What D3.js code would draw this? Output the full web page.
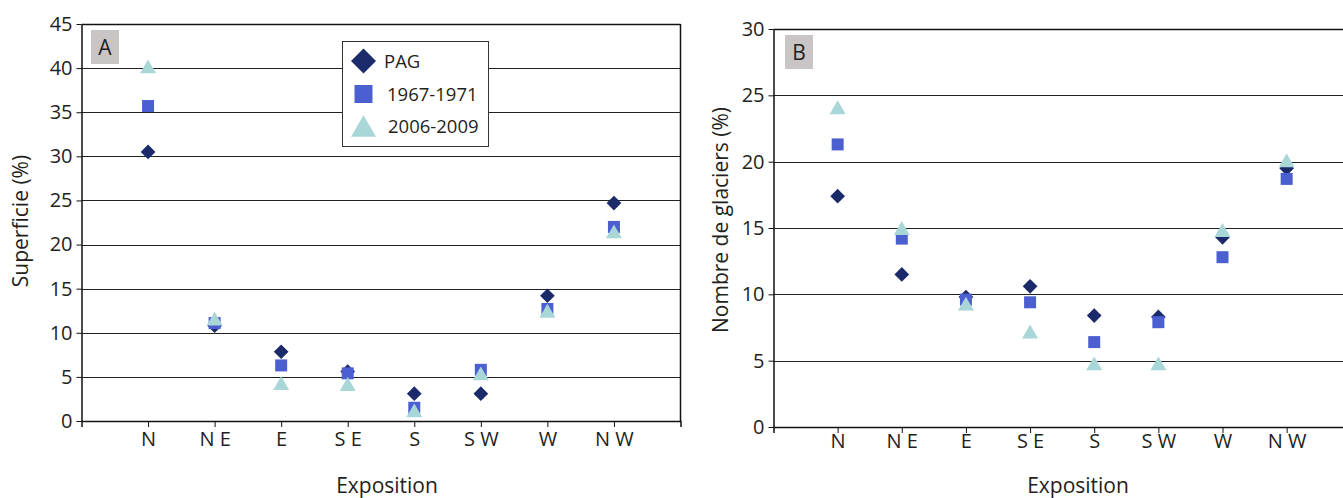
<!DOCTYPE html>
<html><head><meta charset="utf-8">
<script src="https://cdn.jsdelivr.net/npm/d3@7"></script>
<style>
body{margin:0;background:#fff}
text{font-family:"Open Sans",sans-serif;fill:#231f20}
</style>
</head><body><svg id="c" width="1343" height="498"></svg>
<script>
const categories = ["N","N E","E","S E","S","S W","W","N W"];
const seriesNames = ["PAG","1967-1971","2006-2009"];
// Panel A : Superficie (%)
const areaPAG  = [30.5,10.8,7.85,5.6,3.1,3.1,14.2,24.7];
const area1967 = [35.7,11.1,6.3,5.4,1.5,5.8,12.7,22.0];
const area2006 = [40.2,11.6,4.3,4.2,1.2,5.4,12.5,21.5];
// Panel B : Nombre de glaciers (%)
const countPAG  = [17.4,11.5,9.8,10.6,8.4,8.3,14.3,19.5];
const count1967 = [21.3,14.2,9.6,9.4,6.4,7.9,12.8,18.7];
const count2006 = [24.1,15.0,9.3,7.2,4.8,4.8,14.85,20.1];
const yTicksA = [0,5,10,15,20,25,30,35,40,45];
const yTicksB = [0,5,10,15,20,25,30];

const svg = d3.select("#c");
const colors = ["#1b2a6b","#4b5fd1","#a9d6d6"];
const shapes = ["diamond","square","triangle"];

function symPath(shape, size){
  if(shape==="triangle") return d3.symbol(d3.symbolTriangle, size)();
  return d3.symbol(d3.symbolSquare, size)();
}
function symTransform(shape, size, x, y){
  if(shape==="diamond") return `translate(${x},${y}) rotate(45)`;
  if(shape==="triangle"){
    const side = Math.sqrt(4*size/Math.sqrt(3));
    const h = side*Math.sqrt(3)/2;
    return `translate(${x},${y + h/6})`;
  }
  return `translate(${x},${y})`;
}
const markerSize = {diamond:108, square:144, triangle:111};

function panel(opt){
  const g = svg.append("g");
  const x = d3.scalePoint().domain(categories).range([opt.x0,opt.x1]).padding(1);
  const y = d3.scaleLinear().domain([0,opt.ymax]).range([opt.y0,opt.y1]);

  g.append("g").selectAll("line").data(opt.yTicks.filter(d=>d>0)).join("line")
    .attr("x1",opt.x0).attr("x2",Math.min(opt.x1,1343))
    .attr("y1",d=>Math.round(y(d))+0.5).attr("y2",d=>Math.round(y(d))+0.5)
    .attr("stroke",d=>d===opt.ymax?"#111":"#222").attr("stroke-width",d=>d===opt.ymax?1.5:1.1);
  if(opt.rightBorder){
    g.append("line").attr("x1",opt.x1).attr("x2",opt.x1)
      .attr("y1",y(opt.ymax)).attr("y2",y(0)).attr("stroke","#111").attr("stroke-width",1.5);
  }

  const ya = g.append("g").attr("transform",`translate(${opt.x0},0)`)
    .call(d3.axisLeft(y).tickValues(opt.yTicks).tickSize(5).tickSizeOuter(0).tickPadding(4));
  ya.attr("font-family",null);
  ya.select(".domain").attr("stroke","#111").attr("stroke-width",1.5);
  ya.selectAll(".tick line").attr("stroke","#111").attr("stroke-width",1);
  ya.selectAll(".tick text").attr("font-size",20).attr("fill","#231f20");

  const xa = g.append("g").attr("transform",`translate(0,${opt.y0})`)
    .call(d3.axisBottom(x).tickSize(6).tickSizeOuter(6).tickPadding(opt.xPad));
  xa.attr("font-family",null);
  xa.select(".domain").attr("stroke","#111").attr("stroke-width",1.5);
  xa.selectAll(".tick line").attr("stroke","#111").attr("stroke-width",1);
  xa.selectAll(".tick text").attr("font-size",20).attr("fill","#231f20");

  opt.series.forEach((vals,si)=>{
    const shape = shapes[si], size = markerSize[shape];
    g.append("g").selectAll("path").data(vals).join("path")
      .attr("d",symPath(shape,size))
      .attr("transform",(d,i)=>symTransform(shape,size,x(categories[i]),y(d)))
      .attr("fill",colors[si]);
  });

  g.append("rect").attr("x",opt.box[0]).attr("y",opt.box[1]).attr("width",28).attr("height",34).attr("fill","#c9c5c4");
  g.append("text").attr("x",opt.box[0]+14).attr("y",opt.box[1]+25).attr("text-anchor","middle")
    .attr("font-size",21).text(opt.letter);

  g.append("text").attr("x",opt.xTitle[0]).attr("y",opt.xTitle[1]).attr("text-anchor","middle")
    .attr("font-size",21).text("Exposition");
  g.append("text").attr("transform",`translate(${opt.yTitle[0]},${opt.yTitle[1]}) rotate(-90)`)
    .attr("text-anchor","middle").attr("font-size",21).text(opt.yLabel);
  return g;
}

panel({x0:81.5,x1:680.5,y0:421,y1:24,ymax:45,yTicks:yTicksA,xPad:5,rightBorder:true,
  series:[areaPAG,area1967,area2006],box:[91,30],letter:"A",
  xTitle:[387,493],yTitle:[28,221],yLabel:"Superficie (%)"});
panel({x0:773.5,x1:1350.8,y0:427,y1:29,ymax:30,yTicks:yTicksB,xPad:1,rightBorder:false,
  series:[countPAG,count1967,count2006],box:[785,35],letter:"B",
  xTitle:[1078,493],yTitle:[728,220],yLabel:"Nombre de glaciers (%)"});

const lg = svg.append("g");
lg.append("rect").attr("x",342.5).attr("y",41.5).attr("width",146).attr("height",105)
  .attr("fill","#fff").attr("stroke","#333").attr("stroke-width",1);
const legendSize = {diamond:312, square:324, triangle:270};
const legendRows = [61,94,126];
const legendTextX = [384,387,388];
seriesNames.forEach((name,i)=>{
  const shape = shapes[i], size = legendSize[shape];
  lg.append("path").attr("d",symPath(shape,size))
    .attr("transform",symTransform(shape,size,363.5,legendRows[i]))
    .attr("fill",colors[i]);
  lg.append("text").attr("x",legendTextX[i]).attr("y",legendRows[i]).attr("dy","0.36em")
    .attr("font-size",18.5).text(name);
});
</script>
</body></html>
